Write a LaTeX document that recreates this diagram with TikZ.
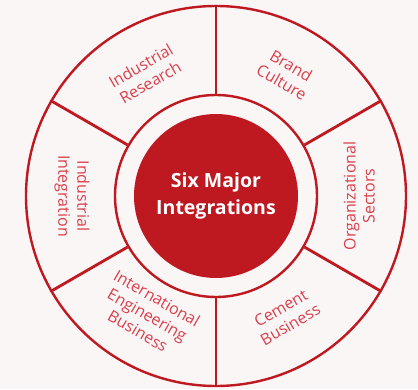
\documentclass[tikz,border=0pt]{standalone}
\usepackage{fontspec}
\setmainfont{Open Sans}
\definecolor{bg}{HTML}{FBF6F6}
\definecolor{mred}{HTML}{BE1820}
\definecolor{lred}{HTML}{D9404C}
\begin{document}
\begin{tikzpicture}[x=1pt,y=1pt,
  ring/.style={circle, draw=mred, line width=2.4pt, inner sep=0pt},
  divider/.style={draw=mred, line width=2.8pt},
  seglabel/.style={text=lred, font=\fontsize{16}{19}\selectfont, align=center, inner sep=0pt}]
\fill[bg] (0,0) rectangle (418,389);
\useasboundingbox (0,0) rectangle (418,389);
\coordinate (c) at (216,193);
\node[ring, minimum size=380pt] (outer) at (c) {};
\node[ring, minimum size=202pt, fill=bg] (inner) at (c) {};
\node[circle, fill=mred, minimum size=164pt, inner sep=0pt, text=white, align=center,
      font=\bfseries\fontsize{19.5}{27}\selectfont] (core) at (c) {Six Major\\Integrations};
\foreach \a in {90,30,-30,-90,-150,150}
  \draw[divider] (inner.\a) -- (outer.\a);
\node[seglabel, rotate=30] (ir) at ([shift={(120:141)}]c) {Industrial\\Research};
\node[seglabel, rotate=-30] (bc) at ([shift={(60:141)}]c) {Brand\\Culture};
\node[seglabel, rotate=90] (os) at ([shift={(0:143)}]c) {Organizational\\Sectors};
\node[seglabel, rotate=30] (cb) at ([shift={(-60:139)}]c) {Cement\\Business};
\node[seglabel, rotate=-30] (ie) at ([shift={(-120:137)}]c) {International\\Engineering\\Business};
\node[seglabel, rotate=-90] (ii) at ([shift={(180:144)}]c) {Industrial\\Integration};
\end{tikzpicture}
\end{document}
